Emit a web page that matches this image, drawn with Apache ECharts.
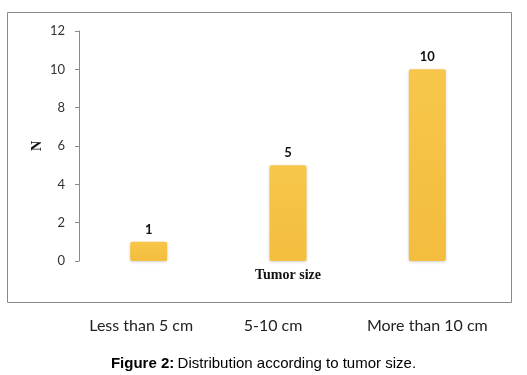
<!DOCTYPE html>
<html><head><meta charset="utf-8">
<script src="https://cdn.jsdelivr.net/npm/echarts@6/dist/echarts.min.js"></script>
<style>html,body{margin:0;padding:0;background:#fff}#c{width:527px;height:375px}</style>
</head><body><div id="c"></div>
<script>
var categories = ['Less than 5 cm', '5-10 cm', 'More than 10 cm'];
var values = [1, 5, 10];
var yTicks = [0, 2, 4, 6, 8, 10, 12];
var xTitle = 'Tumor size';
var yTitle = 'N';
var caption = 'Distribution according to tumor size.';
var captionLead = 'Figure 2:';

var labelShift = [15, 30, 0];
var chart = echarts.init(document.getElementById('c'), null, {renderer: 'canvas'});
chart.setOption({
  animation: false,
  grid: {left: 79, right: 30, top: 31, bottom: 114},
  xAxis: {
    type: 'category', data: categories,
    name: xTitle, nameLocation: 'middle', nameGap: 7, nameMoveOverlap: false,
    nameTextStyle: {fontFamily: 'Liberation Serif', fontWeight: 'bold', fontSize: 14, color: '#111', verticalAlign: 'top'},
    axisLine: {show: false}, axisTick: {show: false},
    axisLabel: {
      margin: 57, fontFamily: 'Lato', fontSize: 16, color: '#222', interval: 0,
      formatter: function (v, i) { return '{s' + i + '|' + v + '}'; },
      rich: {
        s0: {fontFamily: 'Lato', fontSize: 16, color: '#222', padding: [0, labelShift[0], 0, 0]},
        s1: {fontFamily: 'Lato', fontSize: 16, color: '#222', padding: [0, labelShift[1], 0, 0]},
        s2: {fontFamily: 'Lato', fontSize: 16, color: '#222', padding: [0, labelShift[2], 0, 0]}
      }
    }
  },
  yAxis: {
    type: 'value', min: yTicks[0], max: yTicks[yTicks.length - 1], interval: yTicks[1] - yTicks[0],
    name: yTitle, nameLocation: 'middle', nameGap: 35, nameRotate: 90, nameMoveOverlap: false,
    nameTextStyle: {fontFamily: 'Liberation Serif', fontWeight: 'bold', fontSize: 14, color: '#111'},
    axisLine: {show: true, lineStyle: {color: '#8c8c8c', width: 1}},
    axisTick: {show: true, length: 4, lineStyle: {color: '#8c8c8c'}},
    splitLine: {show: false},
    axisLabel: {fontFamily: 'Lato', fontSize: 13, color: '#333', margin: 14}
  },
  series: [{
    type: 'bar', data: values, barWidth: 37,
    itemStyle: {
      color: new echarts.graphic.LinearGradient(0, 0, 0, 1, [
        {offset: 0, color: '#F7C64A'}, {offset: 1, color: '#F3BD3E'}
      ]),
      borderRadius: 2, shadowBlur: 3, shadowColor: 'rgba(0,0,0,0.18)', shadowOffsetY: 1
    },
    label: {show: true, position: 'top', distance: 6, fontFamily: 'Lato', fontWeight: 'bold', fontSize: 13, color: '#111'}
  }],
  graphic: [
    {type: 'rect', shape: {x: 7.5, y: 12.5, width: 504, height: 290}, style: {fill: null, stroke: '#8a8a8a', lineWidth: 1}, z: -1},
    {type: 'text', left: 'center', top: 356, style: {
      text: '{b|' + captionLead + '} {n|' + caption + '}',
      rich: {
        b: {fontFamily: 'Liberation Sans', fontWeight: 'bold', fontSize: 15, fill: '#000'},
        n: {fontFamily: 'Liberation Sans', fontSize: 15, fill: '#000'}
      }
    }}
  ]
});
</script></body></html>
